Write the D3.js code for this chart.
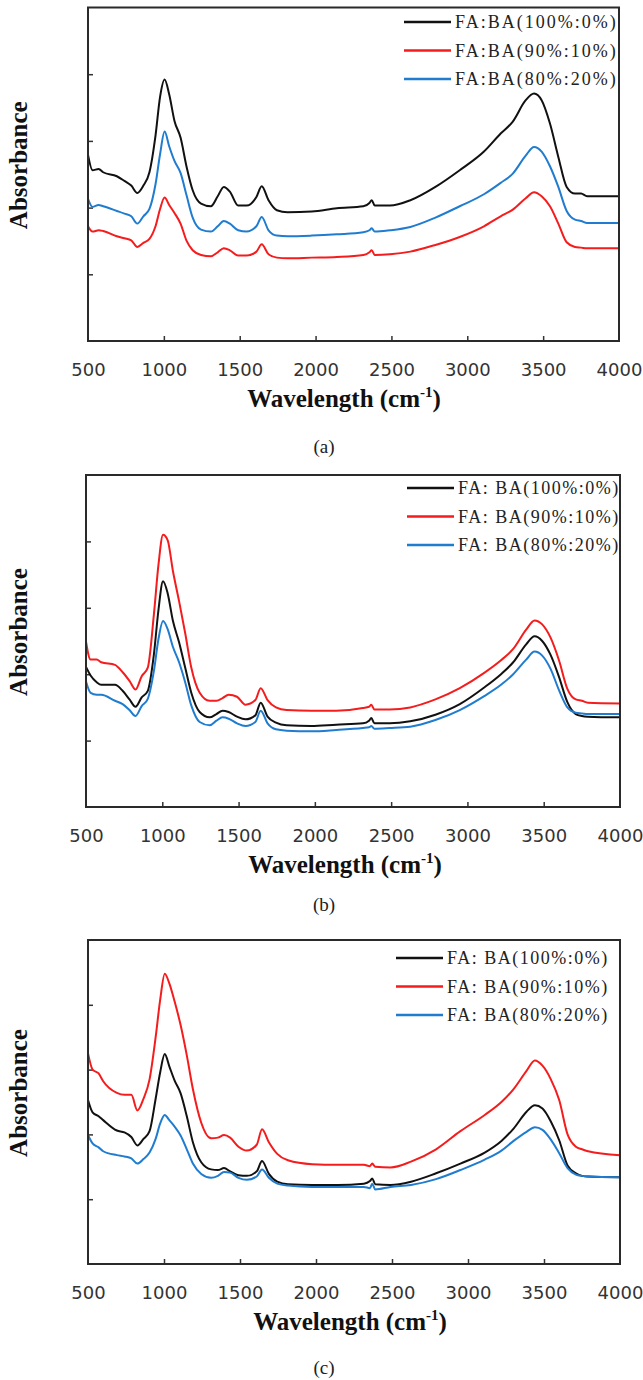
<!DOCTYPE html>
<html lang="en">
<head>
<meta charset="utf-8">
<title>FTIR spectra</title>
<style>
body{
  margin: 0;
  background: #fff;
}
.tick text{
  font: 18px "DejaVu Sans", sans-serif;
  fill: #333;
}
.tick line{
  stroke: #333;
  stroke-width: 1.5;
}
.frame{
  fill: none;
  stroke: #2a2a2a;
  stroke-width: 2;
}
.legend text{
  font: 18px "Liberation Serif", serif;
  fill: #222;
}
.title{
  font: bold 25px "Liberation Serif", serif;
  fill: #111;
}
.caption{
  font: 19px "Liberation Serif", serif;
  fill: #222;
}
</style>
</head>
<body>
<div id="chart"></div>
<script src="https://cdn.jsdelivr.net/npm/d3@7"></script>
<script>
// shared wavenumber grid (cm-1)
var wavenumbers = [500, 530, 570, 600, 690, 740, 785, 825, 865, 905, 945, 975, 1005, 1035, 1070, 1110, 1150, 1190, 1245, 1310,
  1355, 1395, 1435, 1490, 1545, 1610, 1645, 1690, 1745, 1815, 1975, 2140, 2315, 2355, 2370, 2390, 2490, 2625, 2790, 2950,
  3110, 3220, 3300, 3385, 3440, 3490, 3545, 3600, 3655, 3710, 3750, 3790, 4000];

var xTicks = [500, 1000, 1500, 2000, 2500, 3000, 3500, 4000];
var yTicks = [1, 2, 3, 4];
var legendA = ["FA:BA(100%:0%)", "FA:BA(90%:10%)", "FA:BA(80%:20%)"];
var legendBC = ["FA: BA(100%:0%)", "FA: BA(90%:10%)", "FA: BA(80%:20%)"];
var captions = ["(a)", "(b)", "(c)"];
var colors = ["#111111", "#f41c1c", "#1f7ccf"];

// panel (a)
var a100 = [2.79, 2.56, 2.58, 2.53, 2.47, 2.40, 2.33, 2.22, 2.33, 2.53, 3.08, 3.66, 3.92, 3.70, 3.30, 3.05, 2.61, 2.26, 2.06, 2.02,
  2.17, 2.31, 2.24, 2.03, 2.03, 2.16, 2.32, 2.11, 1.96, 1.93, 1.94, 1.99, 2.02, 2.07, 2.11, 2.03, 2.03, 2.11, 2.31, 2.56,
  2.84, 3.11, 3.29, 3.61, 3.71, 3.61, 3.26, 2.76, 2.31, 2.21, 2.21, 2.17, 2.17];
var a90 = [1.72, 1.64, 1.66, 1.65, 1.57, 1.54, 1.51, 1.41, 1.47, 1.53, 1.72, 1.98, 2.15, 2.04, 1.92, 1.76, 1.50, 1.36, 1.29, 1.27,
  1.33, 1.39, 1.36, 1.28, 1.28, 1.34, 1.45, 1.30, 1.25, 1.24, 1.25, 1.26, 1.29, 1.33, 1.36, 1.29, 1.30, 1.34, 1.44, 1.56,
  1.72, 1.87, 1.97, 2.14, 2.23, 2.17, 2.02, 1.76, 1.48, 1.41, 1.40, 1.39, 1.39];
var a80 = [2.13, 2.01, 2.04, 2.02, 1.95, 1.91, 1.87, 1.76, 1.87, 1.98, 2.35, 2.80, 3.14, 2.92, 2.70, 2.52, 2.18, 1.85, 1.67, 1.64,
  1.72, 1.80, 1.76, 1.66, 1.64, 1.72, 1.86, 1.66, 1.58, 1.57, 1.58, 1.60, 1.63, 1.66, 1.69, 1.64, 1.66, 1.71, 1.85, 2.02,
  2.20, 2.37, 2.51, 2.78, 2.91, 2.84, 2.62, 2.31, 1.95, 1.82, 1.80, 1.77, 1.77];

// panel (b)
var b100 = [2.11, 1.98, 1.88, 1.84, 1.84, 1.75, 1.62, 1.51, 1.65, 1.75, 2.30, 2.97, 3.40, 3.22, 2.80, 2.48, 2.10, 1.72, 1.43, 1.35,
  1.40, 1.45, 1.43, 1.36, 1.32, 1.38, 1.57, 1.36, 1.27, 1.23, 1.22, 1.24, 1.26, 1.30, 1.34, 1.26, 1.26, 1.29, 1.39, 1.55,
  1.80, 2.00, 2.18, 2.45, 2.57, 2.50, 2.29, 1.96, 1.58, 1.40, 1.37, 1.36, 1.35];
var b90 = [2.49, 2.22, 2.22, 2.18, 2.14, 2.03, 1.90, 1.77, 1.97, 2.10, 2.90, 3.65, 4.10, 4.02, 3.55, 3.10, 2.62, 2.10, 1.72, 1.60,
  1.60, 1.64, 1.69, 1.66, 1.54, 1.61, 1.79, 1.61, 1.50, 1.46, 1.45, 1.45, 1.49, 1.51, 1.54, 1.47, 1.47, 1.50, 1.62, 1.79,
  2.02, 2.21, 2.38, 2.67, 2.81, 2.75, 2.55, 2.21, 1.78, 1.62, 1.60, 1.57, 1.56];
var b80 = [1.89, 1.72, 1.69, 1.69, 1.60, 1.55, 1.46, 1.37, 1.52, 1.63, 2.05, 2.53, 2.80, 2.68, 2.41, 2.18, 1.88, 1.53, 1.28, 1.23,
  1.30, 1.35, 1.33, 1.26, 1.22, 1.28, 1.45, 1.26, 1.17, 1.15, 1.14, 1.16, 1.19, 1.20, 1.22, 1.18, 1.19, 1.21, 1.31, 1.46,
  1.67, 1.84, 2.00, 2.22, 2.34, 2.28, 2.08, 1.76, 1.50, 1.42, 1.41, 1.40, 1.40];

// panel (c)
var c100 = [2.53, 2.34, 2.28, 2.22, 2.06, 2.03, 1.96, 1.83, 1.93, 2.05, 2.55, 2.96, 3.24, 3.05, 2.83, 2.63, 2.28, 1.88, 1.57, 1.46,
  1.45, 1.48, 1.43, 1.37, 1.36, 1.43, 1.59, 1.39, 1.27, 1.23, 1.22, 1.22, 1.24, 1.28, 1.32, 1.23, 1.22, 1.27, 1.40, 1.55,
  1.72, 1.90, 2.09, 2.35, 2.45, 2.40, 2.20, 1.91, 1.52, 1.40, 1.36, 1.35, 1.34];
var c90 = [3.25, 3.00, 2.94, 2.82, 2.64, 2.61, 2.61, 2.37, 2.55, 2.85, 3.50, 4.08, 4.48, 4.33, 4.05, 3.68, 3.22, 2.70, 2.18, 1.94,
  1.95, 1.99, 1.95, 1.81, 1.75, 1.84, 2.08, 1.88, 1.70, 1.60, 1.54, 1.53, 1.53, 1.51, 1.55, 1.50, 1.49, 1.58, 1.77, 2.05,
  2.30, 2.50, 2.70, 2.98, 3.14, 3.06, 2.85, 2.53, 2.00, 1.81, 1.77, 1.74, 1.68];
var c80 = [1.99, 1.86, 1.80, 1.74, 1.68, 1.66, 1.63, 1.55, 1.62, 1.72, 1.93, 2.17, 2.30, 2.22, 2.12, 1.98, 1.77, 1.55, 1.39, 1.33,
  1.36, 1.42, 1.41, 1.33, 1.30, 1.35, 1.46, 1.33, 1.24, 1.21, 1.19, 1.19, 1.19, 1.17, 1.24, 1.15, 1.19, 1.22, 1.31, 1.45,
  1.61, 1.75, 1.90, 2.04, 2.11, 2.07, 1.92, 1.71, 1.48, 1.38, 1.36, 1.35, 1.34];

var panels = [
  { series: [a100, a90, a80], labels: legendA, caption: captions[0], spacing: 2,
    top: 7.5, bottom: 341, left: 88, right: 619, legX: 404, legY: 22, capY: 453, titleX: 344 },
  { series: [b100, b90, b80], labels: legendBC, caption: captions[1], spacing: 1.5,
    top: 475, bottom: 807, left: 86, right: 620, legX: 407, legY: 488, capY: 911, titleX: 345 },
  { series: [c100, c90, c80], labels: legendBC, caption: captions[2], spacing: 1.5,
    top: 940, bottom: 1264, left: 88, right: 620, legX: 396, legY: 958, capY: 1374, titleX: 350 }
];

var svg = d3.select("#chart").append("svg")
  .attr("width", 643)
  .attr("height", 1380)
  .style("display", "block");

panels.forEach(function(p) {
  var x = d3.scaleLinear().domain([500, 4000]).range([p.left, p.right]);
  var y = d3.scaleLinear().domain([0, 5]).range([p.bottom, p.top]);

  var g = svg.append("g");

  // x axis, ticks pointing inward
  var xAxis = d3.axisBottom(x).tickValues(xTicks).tickFormat(d3.format("d"))
    .tickSizeInner(-5).tickSizeOuter(0).tickPadding(22);
  var xg = g.append("g").attr("transform", `translate(0, ${p.bottom})`).call(xAxis);
  xg.select(".domain").remove();
  xg.selectAll(".tick line").filter(function(d) { return d === 500 || d === 4000; }).remove();

  var yAxis = d3.axisLeft(y).tickValues(yTicks).tickSizeInner(-5).tickSizeOuter(0).tickFormat("");
  var yg = g.append("g").attr("transform", `translate(${p.left}, 0)`).call(yAxis);
  yg.select(".domain").remove();

  var line = d3.line()
    .x(function(d, i) { return x(wavenumbers[i]); })
    .y(function(d) { return y(d); })
    .curve(d3.curveMonotoneX);

  p.series.forEach(function(s, i) {
    g.append("path")
      .datum(s)
      .attr("fill", "none")
      .attr("stroke", colors[i])
      .attr("stroke-width", 2)
      .attr("stroke-linejoin", "round")
      .attr("d", line);
  });

  g.append("rect").attr("class", "frame")
    .attr("x", p.left).attr("y", p.top)
    .attr("width", p.right - p.left).attr("height", p.bottom - p.top);

  // legend
  var leg = g.append("g").attr("class", "legend");
  p.labels.forEach(function(lab, i) {
    var ly = p.legY + i * 28.5;
    leg.append("line")
      .attr("x1", p.legX).attr("x2", p.legX + 47)
      .attr("y1", ly).attr("y2", ly)
      .attr("stroke", colors[i]).attr("stroke-width", 2.5);
    leg.append("text")
      .attr("x", p.legX + 51).attr("y", ly + 6)
      .style("letter-spacing", p.spacing + "px")
      .text(lab);
  });

  // axis titles
  var mid = (p.top + p.bottom) / 2 - 9;
  g.append("text").attr("class", "title")
    .attr("transform", `translate(27, ${mid}) rotate(-90)`)
    .attr("text-anchor", "middle")
    .text("Absorbance");

  var xt = g.append("text").attr("class", "title")
    .attr("x", p.titleX).attr("y", p.bottom + 66)
    .attr("text-anchor", "middle");
  xt.append("tspan").text("Wavelength (cm");
  xt.append("tspan").attr("dy", -10).style("font-size", "15px").text("-1");
  xt.append("tspan").attr("dy", 10).text(")");

  g.append("text").attr("class", "caption")
    .attr("x", 324).attr("y", p.capY)
    .attr("text-anchor", "middle")
    .text(p.caption);
});
</script>
</body>
</html>
